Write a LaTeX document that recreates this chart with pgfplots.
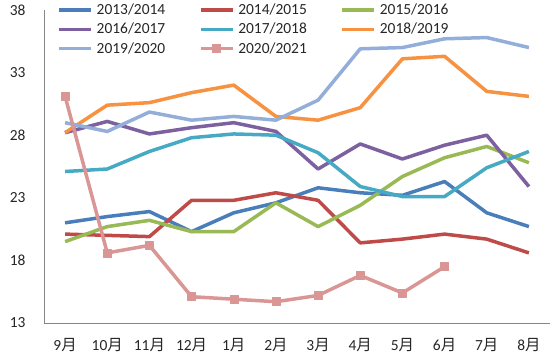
\documentclass[border=0pt]{standalone}
\usepackage{pgfplots}
\usepackage{pgfplotstable}
\pgfplotsset{compat=1.18}
\usepackage{fontspec}
\setmainfont{Carlito}
\newfontfamily\cjk{Noto Sans CJK SC}

\definecolor{c1}{HTML}{4A7EBB}
\definecolor{c2}{HTML}{BE4B48}
\definecolor{c3}{HTML}{98B954}
\definecolor{c4}{HTML}{7D60A0}
\definecolor{c5}{HTML}{46AAC5}
\definecolor{c6}{HTML}{F69240}
\definecolor{c7}{HTML}{94AEDA}
\definecolor{c8}{HTML}{D99694}
\definecolor{axgray}{HTML}{868686}

\pgfplotstableread{
x a b c d e f g h
0 21.0 20.1 19.5 28.2 25.1 28.2 29.0 31.1
1 21.5 20.0 20.7 29.1 25.3 30.4 28.3 18.6
2 21.9 19.9 21.2 28.1 26.7 30.6 29.85 19.2
3 20.3 22.8 20.3 28.6 27.8 31.4 29.2 15.1
4 21.8 22.8 20.3 29.0 28.1 32.0 29.5 14.9
5 22.6 23.4 22.6 28.3 28.0 29.5 29.2 14.7
6 23.8 22.8 20.7 25.3 26.6 29.2 30.8 15.2
7 23.4 19.4 22.4 27.3 23.9 30.2 34.9 16.8
8 23.2 19.7 24.7 26.1 23.1 34.1 35.0 15.4
9 24.3 20.1 26.2 27.2 23.1 34.3 35.7 17.5
10 21.8 19.7 27.1 28.0 25.4 31.5 35.8 nan
11 20.7 18.6 25.8 23.9 26.7 31.1 35.0 nan
}\data

\begin{document}
\begin{tikzpicture}
\path[use as bounding box] (-44bp,-32bp) rectangle (506bp,323bp);
\begin{axis}[
  at={(0,0)}, anchor=south west,
  scale only axis, width=506bp, height=313bp,
  xmin=-0.5, xmax=11.5, ymin=13, ymax=38,
  ytick={13,18,23,28,33,38},
  xtick={0,...,11},
  xticklabels={9{\cjk 月},10{\cjk 月},11{\cjk 月},12{\cjk 月},1{\cjk 月},2{\cjk 月},3{\cjk 月},4{\cjk 月},5{\cjk 月},6{\cjk 月},7{\cjk 月},8{\cjk 月}},
  axis lines*=left,
  axis line style={-, draw=axgray, line width=0.8bp},
  major tick length=0pt,
  /pgf/number format/assume math mode=true,
  tick label style={font=\fontsize{15.5}{18}\selectfont, text=black!85},
  yticklabel style={xshift=-15bp},
  xticklabel style={yshift=-12bp},
  every axis plot/.append style={line width=3.5bp, line join=round},
  legend columns=3,
  legend cell align=left,
  legend style={draw=none, fill=none, inner sep=0pt, at={(0.0257,1.02)}, anchor=north west,
    font=\fontsize{15.5}{18}\selectfont, text=black!85, row sep=7bp,
    nodes={inner sep=0pt},
    /tikz/every odd column/.append style={column sep=4bp},
    /tikz/every even column/.append style={column sep=33.5bp}},
  legend image code/.code={\draw[mark repeat=2,mark phase=2,#1] plot coordinates {(0bp,0bp) (16bp,0bp) (32bp,0bp)};},
]
\addplot[c1, no marks] table[x=x,y=a]{\data};
\addlegendentry{2013/2014}
\addplot[c2, no marks] table[x=x,y=b]{\data};
\addlegendentry{2014/2015}
\addplot[c3, no marks] table[x=x,y=c]{\data};
\addlegendentry{2015/2016}
\addplot[c4, no marks] table[x=x,y=d]{\data};
\addlegendentry{2016/2017}
\addplot[c5, no marks] table[x=x,y=e]{\data};
\addlegendentry{2017/2018}
\addplot[c6, no marks] table[x=x,y=f]{\data};
\addlegendentry{2018/2019}
\addplot[c7, no marks] table[x=x,y=g]{\data};
\addlegendentry{2019/2020}
\addplot[c8, mark=square*, mark size=4bp, mark options={fill=c8, draw=c8, line width=0.5bp}] table[x=x,y=h]{\data};
\addlegendentry{2020/2021}
\end{axis}
\end{tikzpicture}
\end{document}
